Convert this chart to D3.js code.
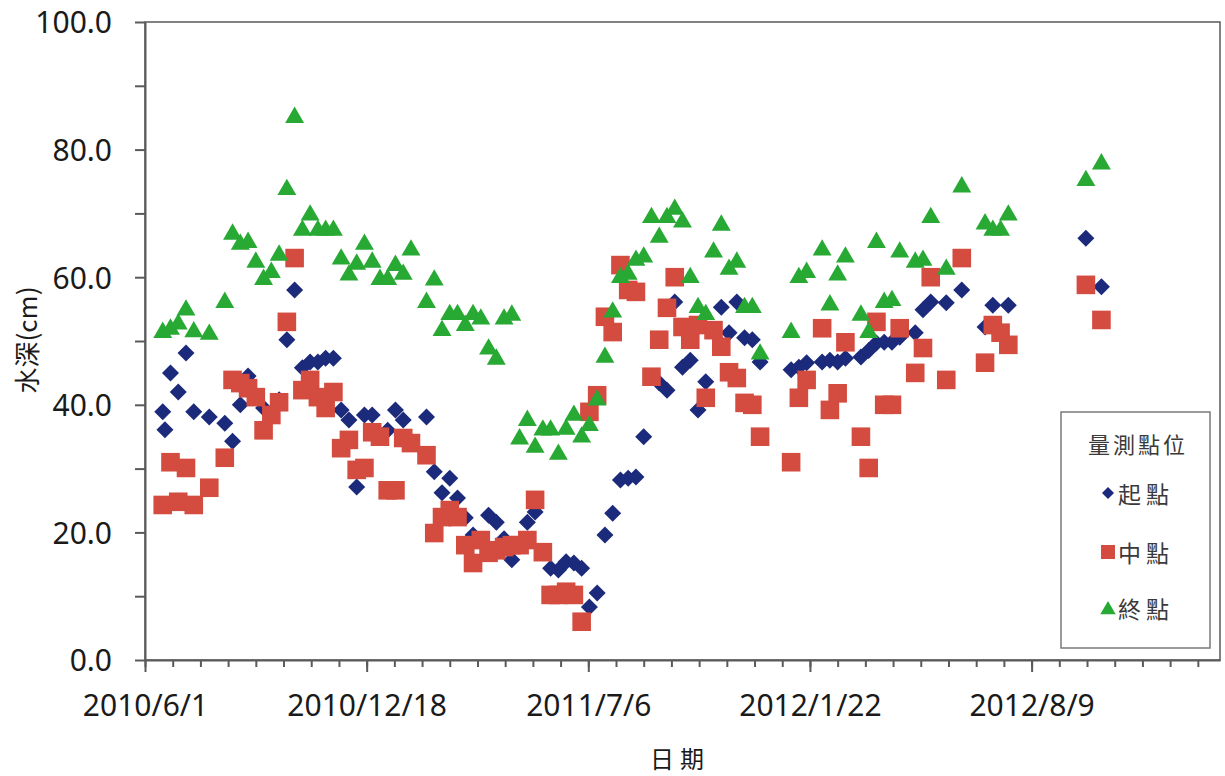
<!DOCTYPE html>
<html>
<head>
<meta charset="utf-8">
<script src="https://cdn.jsdelivr.net/npm/d3@7"></script>
<style>
    body { margin: 0; background: #fff; }
    text { font-family: "Noto Sans", sans-serif; fill: #1a1a1a; }
    .cjk { font-family: "Noto Sans CJK TC", "Noto Sans CJK SC", sans-serif; }
    .legend text { fill: #3a3a3a; }
</style>
</head>
<body>
<div id="chart"></div>
<script>
// measurement dates (same date for all three points)
var dates = [
    "2010/6/17", "2010/6/19", "2010/6/24", "2010/7/1", "2010/7/8", "2010/7/15", "2010/7/29", "2010/8/12",
    "2010/8/19", "2010/8/26", "2010/9/2", "2010/9/9", "2010/9/16", "2010/9/23", "2010/9/30",
    "2010/10/7", "2010/10/14", "2010/10/21", "2010/10/28", "2010/11/4", "2010/11/11", "2010/11/18", "2010/11/25",
    "2010/12/2", "2010/12/9", "2010/12/16", "2010/12/23", "2010/12/30",
    "2011/1/6", "2011/1/13", "2011/1/20", "2011/1/27", "2011/2/10", "2011/2/17", "2011/2/24",
    "2011/3/3", "2011/3/10", "2011/3/17", "2011/3/24", "2011/3/31",
    "2011/4/7", "2011/4/14", "2011/4/21", "2011/4/28",
    "2011/5/5", "2011/5/12", "2011/5/19", "2011/5/26",
    "2011/6/2", "2011/6/9", "2011/6/16", "2011/6/23", "2011/6/30",
    "2011/7/7", "2011/7/14", "2011/7/21", "2011/7/28",
    "2011/8/4", "2011/8/11", "2011/8/18", "2011/8/25",
    "2011/9/1", "2011/9/8", "2011/9/15", "2011/9/22", "2011/9/29",
    "2011/10/6", "2011/10/13", "2011/10/20", "2011/10/27",
    "2011/11/3", "2011/11/10", "2011/11/17", "2011/11/24",
    "2011/12/1", "2011/12/8",
    "2012/1/5", "2012/1/12", "2012/1/19", "2012/2/2", "2012/2/9", "2012/2/16", "2012/2/23",
    "2012/3/8", "2012/3/15", "2012/3/22", "2012/3/29",
    "2012/4/5", "2012/4/12", "2012/4/26",
    "2012/5/3", "2012/5/10", "2012/5/24",
    "2012/6/7", "2012/6/28",
    "2012/7/5", "2012/7/12", "2012/7/19",
    "2012/9/27", "2012/10/11"
];

// 起點
var startDepth = [
    38.9, 36.1, 45.0, 42.0, 48.1, 38.9, 38.1, 37.1,
    34.3, 40.0, 44.5, 41.5, 39.5, null, 40.8,
    50.2, 58.0, 45.8, 46.7, 46.7, 47.3, 47.3, 39.2,
    37.6, 27.1, 38.4, 38.4, null,
    36.0, 39.2, 37.6, null, 38.1, 29.5, 26.2,
    28.5, 25.4, 22.3, 19.6, null,
    22.7, 21.6, 19.0, 15.7,
    null, 21.6, 23.2, null,
    14.4, 14.1, 15.4, 15.2, 14.4,
    8.3, 10.5, 19.6, 23.0,
    28.2, 28.5, 28.7, 35.0,
    null, 43.4, 42.3, 56.1, 45.9,
    47.0, 39.2, 43.6, null,
    55.3, 51.3, 56.1, 50.5,
    50.2, 46.7,
    45.5, 45.9, 46.6, 46.7, 47.0, 46.7, 47.3,
    47.5, 48.5, 49.7, 49.8,
    49.8, 50.6, 51.3,
    54.9, 56.1, 56.0,
    58.0, 52.2,
    55.6, null, 55.6,
    66.1, 58.5
];

// 中點
var midDepth = [
    24.3, null, 31.0, 24.8, 30.1, 24.3, 27.0, 31.7,
    43.9, 43.4, 42.6, 41.2, 36.0, 38.4, 40.4,
    53.0, 63.0, 42.3, 43.9, 41.2, 39.5, 42.0, 33.2,
    34.5, 29.8, 30.1, 35.7, 35.0,
    26.6, 26.6, 34.8, 34.0, 32.1, 19.9, 22.4,
    23.5, 22.4, 18.0, 15.2, 18.8,
    16.8, 17.2, 17.7, 18.0,
    18.0, 18.8, 25.1, 16.9,
    10.2, 10.2, 10.7, 10.2, 6.0,
    38.9, 41.5, 53.8, 51.4,
    61.9, 58.0, 57.7, null,
    44.4, 50.2, 55.2, 60.0, 52.2,
    50.2, 52.5, 41.1, 51.7,
    49.1, 45.1, 44.2, 40.3,
    40.0, 35.0,
    31.0, 41.1, 43.9, 52.0, 39.2, 41.8, 49.8,
    35.0, 30.1, 53.0, 40.0,
    40.0, 52.0, 45.0,
    48.9, 60.0, 43.9,
    63.0, 46.6,
    52.5, 51.3, 49.4,
    58.8, 53.3
];

// 終點
var endDepth = [
    51.7, null, 52.2, 53.0, 55.2, 51.8, 51.4, 56.4,
    67.1, 65.5, 65.8, 62.7, 60.0, 61.1, 63.8,
    74.1, 85.4, 67.7, 70.1, 67.7, 67.7, 67.7, 63.2,
    60.7, 62.4, 65.5, 62.7, 60.0,
    60.0, 62.2, 60.8, 64.6, 56.4, 59.9, 52.0,
    54.5, 54.5, 52.8, 54.5, 53.8,
    49.1, 47.5, 53.8, 54.4,
    35.0, 37.9, 33.7, 36.4,
    36.4, 32.6, 36.5, 38.7, 35.3,
    37.1, 41.1, 47.8, 54.9,
    60.3, 60.8, 63.0, 63.5,
    69.7, 66.6, 69.7, 71.0, 69.0,
    60.3, 55.6, 54.5, 64.3,
    68.5, 61.6, 62.7, 55.6,
    55.6, 48.3,
    51.7, 60.3, 61.1, 64.6, 56.0, 60.7, 63.5,
    54.4, 51.7, 65.8, 56.4,
    56.7, 64.3, 62.7,
    63.0, 69.7, 61.6,
    74.5, 68.7,
    67.7, 67.7, 70.1,
    75.5, 78.1
];

var seriesNames = ["起點", "中點", "終點"];
var seriesColors = ["#1c2a7c", "#d44b3f", "#27a934"];
var legendTitle = "量測點位";
var xTitle = "日期";
var yTitle = "水深(cm)";
var xDomain = ["2010/6/1", "2013/1/26"];
var xTickLabels = ["2010/6/1", "2010/12/18", "2011/7/6", "2012/1/22", "2012/8/9"];
var xMinorStep = 25; // days
var yDomain = [0, 100];
var yTickLabels = [0, 20, 40, 60, 80, 100];
var yMinorTicks = [0, 10, 20, 30, 40, 50, 60, 70, 80, 90, 100];

var margin = { top: 22, right: 5, bottom: 116, left: 145 },
    width = 1225 - margin.left - margin.right,
    height = 776 - margin.top - margin.bottom;

var parseDate = d3.utcParse("%Y/%m/%d");
var fmtDate = d3.utcFormat("%Y/%-m/%-d");
var axisColor = "#5a5a5a";

var svg = d3.select("#chart")
    .append("svg")
    .attr("width", width + margin.left + margin.right)
    .attr("height", height + margin.top + margin.bottom)
    .append("g")
    .attr("transform", "translate(" + margin.left + "," + margin.top + ")");

var x = d3.scaleUtc()
    .domain(xDomain.map(parseDate))
    .range([0, width]);

var y = d3.scaleLinear()
    .domain(yDomain)
    .range([height, 0]);

// plot border
svg.append("rect")
    .attr("width", width)
    .attr("height", height)
    .attr("fill", "none")
    .attr("stroke", axisColor)
    .attr("stroke-width", 1.5);

// minor x ticks every 25 days
var x0 = parseDate(xDomain[0]);
var minorDates = d3.range(0, 971, xMinorStep).map(function(d) { return d3.utcDay.offset(x0, d); });

svg.append("g")
    .attr("class", "axis")
    .attr("transform", "translate(0," + height + ")")
    .call(d3.axisBottom(x)
        .tickValues(minorDates)
        .tickSize(7)
        .tickSizeOuter(0)
        .tickFormat(""));

// major x ticks with labels
svg.append("g")
    .attr("class", "axis")
    .attr("transform", "translate(0," + height + ")")
    .call(d3.axisBottom(x)
        .tickValues(xTickLabels.map(parseDate))
        .tickSize(12)
        .tickSizeOuter(0)
        .tickFormat(fmtDate))
    .call(function(g) { g.select(".domain").remove(); })
    .selectAll("text")
    .attr("y", 56)
    .attr("dy", null)
    .style("font-size", "30px");

// y axis
svg.append("g")
    .attr("class", "axis")
    .call(d3.axisLeft(y)
        .tickValues(yMinorTicks)
        .tickSize(10)
        .tickSizeOuter(0)
        .tickPadding(23)
        .tickFormat(function(d) { return yTickLabels.indexOf(d) >= 0 ? d3.format(".1f")(d) : ""; }))
    .selectAll("text")
    .attr("dy", "0.36em")
    .style("font-size", "30px");

svg.selectAll(".axis path, .axis line")
    .attr("stroke", axisColor)
    .attr("stroke-width", 2);
svg.selectAll(".axis text").attr("fill", "#1a1a1a");

// axis titles
svg.append("text")
    .attr("class", "cjk")
    .attr("x", 535)
    .attr("y", height + 108)
    .attr("text-anchor", "middle")
    .style("font-size", "24px")
    .style("letter-spacing", "6px")
    .text(xTitle);

svg.append("text")
    .attr("class", "cjk")
    .attr("transform", "translate(" + (-120) + "," + 318 + ") rotate(-90)")
    .attr("text-anchor", "middle")
    .attr("dominant-baseline", "central")
    .style("font-size", "26px")
    .text(yTitle);

// marker shapes
function markerPath(i, s) {
    if (i == 0) return "M0," + (-s) + "L" + s + ",0L0," + s + "L" + (-s) + ",0Z";
    if (i == 1) return "M" + (-s) + "," + (-s) + "H" + s + "V" + s + "H" + (-s) + "Z";
    return "M0," + (-s) + "L" + (s * 1.1) + "," + (s * 0.9) + "H" + (-s * 1.1) + "Z";
}
var markerSize = [8.5, 9.3, 8.6];

var series = [startDepth, midDepth, endDepth];
series.forEach(function(vals, i) {
    var data = dates.map(function(d, j) { return { date: parseDate(d), value: vals[j] }; })
        .filter(function(d) { return d.value != null; });

    svg.append("g")
        .selectAll("path")
        .data(data)
        .enter()
        .append("path")
        .attr("transform", function(d) { return "translate(" + x(d.date) + "," + y(d.value) + ")"; })
        .attr("d", markerPath(i, markerSize[i]))
        .attr("fill", seriesColors[i]);
});

// legend
var legend = svg.append("g")
    .attr("class", "legend")
    .attr("transform", "translate(" + (1061 - margin.left) + "," + (412 - margin.top) + ")");

legend.append("rect")
    .attr("width", 149)
    .attr("height", 236)
    .attr("fill", "#fff")
    .attr("stroke", "#7a7a7a")
    .attr("stroke-width", 1.5);

legend.append("text")
    .attr("class", "cjk")
    .attr("x", 77)
    .attr("y", 31)
    .attr("text-anchor", "middle")
    .attr("dominant-baseline", "central")
    .style("font-size", "22px")
    .style("letter-spacing", "3px")
    .text(legendTitle);

var legendY = [81, 140, 196];
seriesNames.forEach(function(name, i) {
    legend.append("path")
        .attr("transform", "translate(47," + legendY[i] + ")")
        .attr("d", markerPath(i, [6, 7, 7][i]))
        .attr("fill", seriesColors[i]);

    legend.append("text")
        .attr("class", "cjk")
        .attr("x", 57)
        .attr("y", legendY[i])
        .attr("dominant-baseline", "central")
        .style("font-size", "23px")
        .style("letter-spacing", "5px")
        .text(name);
});
</script>
</body>
</html>
